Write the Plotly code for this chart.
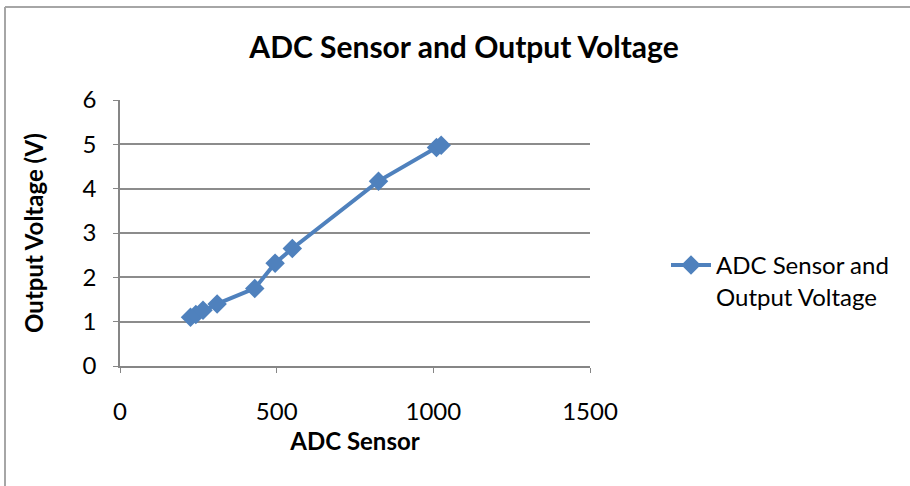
import plotly.graph_objects as go

adc = [225, 242, 265, 310, 430, 495, 550, 825, 1010, 1025]
voltage = [1.10, 1.16, 1.26, 1.40, 1.75, 2.32, 2.65, 4.17, 4.93, 4.98]
x_ticks = [0, 500, 1000, 1500]
y_ticks = [0, 1, 2, 3, 4, 5, 6]

FONT = "Lato"
BLUE = "#4F81BD"

fig = go.Figure()
fig.add_trace(go.Scatter(
    x=adc, y=voltage, mode="lines+markers",
    name="ADC Sensor and<br>Output Voltage",
    line=dict(color=BLUE, width=4),
    marker=dict(symbol="diamond", size=15, color=BLUE),
))

L, R, T, B = 120, 320, 100, 120
W, H = 910, 486
pw, ph = W - L - R, H - T - B

def px(xp):
    return (xp - L) / pw

def py(yp):
    return (H - B - yp) / ph

fig.update_layout(
    width=W, height=H,
    margin=dict(l=L, r=R, t=T, b=B, autoexpand=False),
    paper_bgcolor="white", plot_bgcolor="white",
    font=dict(family=FONT, size=24, color="#000000"),
    title=dict(text="<b>ADC Sensor and Output Voltage</b>", x=464 / W, xanchor="center",
               y=1 - 47 / H, yanchor="middle", font=dict(size=30, family=FONT)),
    showlegend=True,
    legend=dict(x=px(666), xanchor="left", y=py(281), yanchor="middle",
                font=dict(size=24, family=FONT), bgcolor="rgba(0,0,0,0)",
                itemwidth=40, valign="top"),
    hovermode=False,
    xaxis=dict(range=[0, 1500], tickvals=x_ticks, showgrid=False,
               showline=True, linecolor="#868686", linewidth=1.5,
               ticks="outside", ticklen=5, tickcolor="#868686",
               ticklabelstandoff=18, zeroline=False,
               title=dict(text="<b>ADC Sensor</b>", standoff=10, font=dict(size=24))),
    yaxis=dict(range=[0, 6], tickvals=y_ticks, showgrid=True, gridcolor="#8C8C8C", gridwidth=2,
               showline=True, linecolor="#868686", linewidth=1.5,
               ticks="outside", ticklen=5, tickcolor="#868686",
               ticklabelstandoff=12, zeroline=False,
               title=dict(text="<b>Output Voltage (V)</b>", standoff=32, font=dict(size=24))),
)

# outer chart border (top and left visible)
fig.add_shape(type="line", xref="paper", yref="paper", x0=px(5), x1=px(910), y0=py(7), y1=py(7),
              line=dict(color="#A6A6A6", width=2))
fig.add_shape(type="line", xref="paper", yref="paper", x0=px(5), x1=px(5), y0=py(7), y1=py(486),
              line=dict(color="#A6A6A6", width=2))

fig.write_html("out.html", config={"displayModeBar": False},
               post_script="document.body.style.margin='0';")
